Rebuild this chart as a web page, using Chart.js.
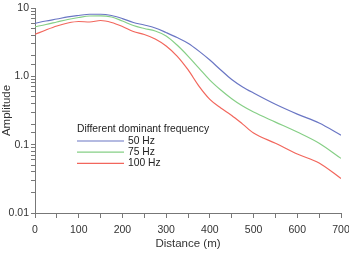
<!DOCTYPE html>
<html><head><meta charset="utf-8">
<script src="https://cdn.jsdelivr.net/npm/chart.js@4"></script>
<style>html,body{margin:0;padding:0;background:#fff}#wrap{width:349px;height:254px;position:relative}</style>
</head><body><div id="wrap"><canvas id="c"></canvas></div>
<script>
const distances = [0,25,50,75,100,125,150,175,200,225,250,275,300,325,350,375,400,425,450,475,500,550,600,650,700];
const amp50  = [5.97,6.45,6.9,7.4,7.77,8.1,8.1,7.77,7.0,6.14,5.64,5.1,4.37,3.7,3.05,2.34,1.73,1.24,0.9,0.70,0.57,0.39,0.28,0.207,0.138];
const amp75  = [5.32,5.73,6.24,6.79,7.26,7.64,7.69,7.38,6.45,5.54,5.01,4.6,3.89,2.87,1.98,1.32,0.88,0.63,0.47,0.367,0.30,0.214,0.153,0.105,0.063];
const amp100 = [4.12,4.77,5.45,6.03,6.34,6.24,6.56,6.14,5.36,4.53,4.09,3.52,2.78,1.98,1.25,0.72,0.46,0.343,0.268,0.20,0.148,0.105,0.073,0.054,0.032];
const seriesLabels = ['50 Hz','75 Hz','100 Hz'];
const yTickLabels = ['0.01','0.1','1.0','10'];
const xTickLabels = ['0','100','200','300','400','500','600','700'];
const legendTitle = 'Different dominant frequency';

const colors = ['#6a76c4','#86cf86','#f2665c'];
const font = 'Liberation Sans, Arial, Helvetica, sans-serif';
const mk = (arr) => distances.map((d,i)=>({x:d,y:arr[i]}));

const legendPlugin = {
  id:'inlegend',
  afterDraw(chart){
    const ctx = chart.ctx;
    ctx.save();
    ctx.font = '10.3px ' + font;
    ctx.fillStyle = '#222';
    ctx.textBaseline = 'middle';
    ctx.textAlign = 'left';
    ctx.fillText(legendTitle, 77, 129.5);
    chart.data.datasets.forEach((ds,i)=>{
      const y = 141 + i*11.2;
      ctx.strokeStyle = ds.borderColor;
      ctx.lineWidth = 1.2;
      ctx.beginPath(); ctx.moveTo(77,y); ctx.lineTo(124,y); ctx.stroke();
      ctx.fillText(ds.label, 128, y);
    });
    ctx.restore();
  }
};

new Chart(document.getElementById('c'), {
  type:'line',
  data:{datasets:[
    {label:seriesLabels[0], data:mk(amp50), borderColor:colors[0]},
    {label:seriesLabels[1], data:mk(amp75), borderColor:colors[1]},
    {label:seriesLabels[2], data:mk(amp100), borderColor:colors[2]}
  ].map(d=>Object.assign(d,{borderWidth:1.2,pointRadius:0,cubicInterpolationMode:'monotone',fill:false}))},
  options:{
    responsive:true, maintainAspectRatio:false, animation:false,
    layout:{padding:{top:8,right:8,left:0,bottom:0}},
    plugins:{legend:{display:false}, tooltip:{enabled:false}},
    scales:{
      x:{type:'linear', min:0, max:700,
        afterFit(s){s.height=41; s.paddingRight=0; s.paddingLeft=0;},
        border:{color:'#777', width:1},
        grid:{drawOnChartArea:false, color:'#777', tickLength:5},
        ticks:{stepSize:50, autoSkip:false, maxRotation:0, padding:6, color:'#333', font:{family:font,size:10.5},
          callback:(v)=>{const i=xTickLabels.indexOf(String(v)); return i>=0?xTickLabels[i]:'';}},
        title:{display:true, text:'Distance (m)', color:'#333', font:{family:font,size:11.5}, padding:{top:0,bottom:3}}
      },
      y:{type:'logarithmic', min:0.01, max:10,
        afterFit(s){s.width=35; s.paddingTop=0; s.paddingBottom=0;},
        border:{color:'#777', width:1},
        grid:{drawOnChartArea:false, color:'#777', tickLength:4},
        ticks:{autoSkip:false, padding:2, color:'#333', font:{family:font,size:10.5},
          callback:(v)=>{const l=Math.log10(v); if(Math.abs(l-Math.round(l))<1e-6){return yTickLabels[Math.round(l)+2];} return '';}},
        title:{display:true, text:'Amplitude', color:'#333', font:{family:font,size:11.5}, padding:{top:0,bottom:0}}
      }
    }
  },
  plugins:[legendPlugin]
});
</script></body></html>
